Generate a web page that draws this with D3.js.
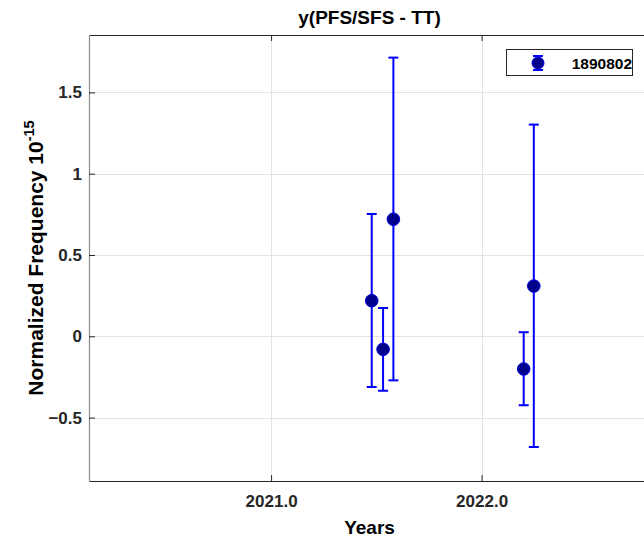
<!DOCTYPE html>
<html>
<head>
<meta charset="utf-8">
<script src="https://cdn.jsdelivr.net/npm/d3@7/dist/d3.min.js"></script>
<style>
  html, body { margin: 0; padding: 0; background: #fff; }
  svg { display: block; font-family: "Liberation Sans", Arial, sans-serif; }
</style>
</head>
<body>
<svg id="chart" width="644" height="537"></svg>
<script>
// Measurement epochs (decimal years) and normalized frequency offsets (x 1e-15)
const epochs   = [2021.478, 2021.532, 2021.581, 2022.200, 2022.248];
const values   = [0.219, -0.080, 0.720, -0.201, 0.309];
const errUpper = [0.752, 0.174, 1.714, 0.025, 1.302];
const errLower = [-0.312, -0.335, -0.271, -0.424, -0.681];
const xTicks   = [2021, 2022];
const yTicks   = [-0.5, 0, 0.5, 1, 1.5];
const seriesName = "1890802";

const svg = d3.select("#chart");
const plotL = 89, plotT = 35, plotR = 650, plotB = 481;

const x = d3.scaleLinear().domain([2020.135, 2022.80]).range([plotL, plotR]);
const y = d3.scaleLinear().domain([-0.89, 1.853]).range([plotB, plotT]);

const axisColor = "#262626";
const gridColor = "#e3e3e3";

// grid
const g = svg.append("g");
g.selectAll("line.gx").data(xTicks).join("line")
  .attr("x1", d => Math.round(x(d)) + 0.5).attr("x2", d => Math.round(x(d)) + 0.5)
  .attr("y1", plotT).attr("y2", plotB)
  .attr("stroke", gridColor).attr("stroke-width", 1);
g.selectAll("line.gy").data(yTicks).join("line")
  .attr("x1", plotL).attr("x2", plotR)
  .attr("y1", d => Math.round(y(d)) + 0.5).attr("y2", d => Math.round(y(d)) + 0.5)
  .attr("stroke", gridColor).attr("stroke-width", 1);

// axes
const xAxis = d3.axisBottom(x).tickValues(xTicks).tickFormat(d3.format(".1f"))
  .tickSizeInner(-6).tickSizeOuter(0).tickPadding(14);
const yAxis = d3.axisLeft(y).tickValues(yTicks).tickFormat(d => d3.format("")(d))
  .tickSizeInner(-6).tickSizeOuter(0).tickPadding(7);
const xTop = d3.axisTop(x).tickValues(xTicks).tickFormat("").tickSizeInner(-6).tickSizeOuter(0);

function style(sel, color) {
  sel.select(".domain").attr("stroke", color).attr("stroke-width", 1.2);
  sel.selectAll(".tick line").attr("stroke", axisColor).attr("stroke-width", 1);
  sel.selectAll(".tick text").attr("fill", axisColor)
    .style("font-size", "17px").style("font-weight", "bold");
}
const gx = svg.append("g").attr("transform", `translate(0,${plotB})`).call(xAxis);
style(gx, axisColor);
const gt = svg.append("g").attr("transform", `translate(0,${plotT})`).call(xTop);
style(gt, axisColor);
const gy = svg.append("g").attr("transform", `translate(${plotL},0)`).call(yAxis);
style(gy, "#8a8a8a");

// error bars
const blue = "#0000ff";
const capW = 5;
const eb = svg.append("g");
epochs.forEach((t, i) => {
  const cx = x(t);
  eb.append("line").attr("x1", cx).attr("x2", cx)
    .attr("y1", y(errUpper[i])).attr("y2", y(errLower[i]))
    .attr("stroke", blue).attr("stroke-width", 2);
  [errUpper[i], errLower[i]].forEach(v => {
    eb.append("line").attr("x1", cx - capW).attr("x2", cx + capW)
      .attr("y1", y(v)).attr("y2", y(v))
      .attr("stroke", blue).attr("stroke-width", 2);
  });
});
svg.append("g").selectAll("circle").data(epochs).join("circle")
  .attr("cx", d => x(d)).attr("cy", (d, i) => y(values[i])).attr("r", 6.3)
  .attr("fill", "#00008b").attr("stroke", "#0000e0").attr("stroke-width", 1);

// title and labels
svg.append("text").attr("x", 369.5).attr("y", 24).attr("text-anchor", "middle")
  .style("font-size", "19px").style("font-weight", "bold").attr("fill", "#000")
  .text("y(PFS/SFS - TT)");
svg.append("text").attr("x", 369.5).attr("y", 534).attr("text-anchor", "middle")
  .style("font-size", "19px").style("font-weight", "bold").attr("fill", "#000")
  .text("Years");
const yl = svg.append("text").attr("transform", `translate(43,${(plotT + plotB) / 2}) rotate(-90)`)
  .attr("text-anchor", "middle")
  .style("font-size", "21px").style("font-weight", "bold").attr("fill", "#000");
yl.append("tspan").text("Normalized Frequency 10");
yl.append("tspan").attr("dy", -9).style("font-size", "14.5px").text("-15");

// legend
const lg = svg.append("g");
lg.append("rect").attr("x", 506.5).attr("y", 49.5).attr("width", 126).attr("height", 26)
  .attr("fill", "#fff").attr("stroke", "#262626").attr("stroke-width", 1);
const lx = 538, ly = 63;
lg.append("line").attr("x1", lx).attr("x2", lx).attr("y1", ly - 7).attr("y2", ly + 7)
  .attr("stroke", blue).attr("stroke-width", 2);
[ly - 7, ly + 7].forEach(v => lg.append("line").attr("x1", lx - 5).attr("x2", lx + 5)
  .attr("y1", v).attr("y2", v).attr("stroke", blue).attr("stroke-width", 2));
lg.append("circle").attr("cx", lx).attr("cy", ly).attr("r", 6)
  .attr("fill", "#00008b").attr("stroke", "#0000e0");
lg.append("text").attr("x", 632).attr("y", 69).attr("text-anchor", "end")
  .style("font-size", "15.5px").style("font-weight", "bold").attr("fill", "#000")
  .text(seriesName);
</script>
</body>
</html>
